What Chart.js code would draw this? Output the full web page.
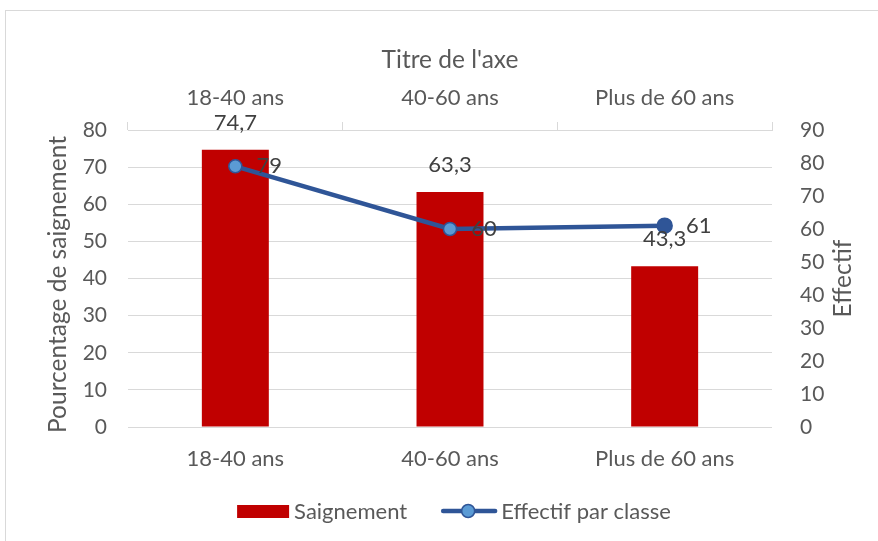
<!DOCTYPE html>
<html>
<head>
<meta charset="utf-8">
<script src="https://cdn.jsdelivr.net/npm/chart.js@4.4.1/dist/chart.umd.min.js"></script>
<style>
    body{ margin:0; background:#fff; }
    .chart-holder{ position:relative; width:878px; height:541px; }
    .chart-frame{ position:absolute; left:5px; top:10px; width:880px; height:540px; border:1px solid #D9D9D9; box-sizing:border-box; }
    #chart{ position:absolute; left:0; top:0; }
</style>
</head>
<body>
<div class="chart-holder">
    <div class="chart-frame"></div>
    <canvas id="chart" width="878" height="541"></canvas>
</div>
<script>
// data
const categories = ['18-40 ans', '40-60 ans', 'Plus de 60 ans'];
const saignement = [74.7, 63.3, 43.3];
const effectif = [79, 60, 61];
const leftTicks = [0, 80, 10];   // min, max, step
const rightTicks = [0, 90, 10];

const textColor = '#595959';
const labelColor = '#404040';
const gridColor = '#D9D9D9';
const fontFamily = 'Lato, "Open Sans", sans-serif';
const tickFont = { family: fontFamily, size: 21 };
const catFont = { family: fontFamily, size: 22 };
const titleFont = { family: fontFamily, size: 24.5 };

const formatFr = v => String(v).replace('.', ',');

// data labels, vertical titles and legend, drawn the Excel way
const extras = {
    id: 'extras',
    afterDatasetsDraw(chart){
        const ctx = chart.ctx;
        ctx.save();
        ctx.font = `22px ${fontFamily}`;
        ctx.fillStyle = labelColor;
        ctx.textBaseline = 'middle';
        ctx.textAlign = 'center';
        chart.getDatasetMeta(0).data.forEach((bar, i) => {
            ctx.fillText(formatFr(saignement[i]), bar.x, bar.y - 27);
        });
        chart.getDatasetMeta(1).data.forEach((pt, i) => {
            ctx.fillText(formatFr(effectif[i]), pt.x + 34, pt.y);
        });
        ctx.restore();
    },
    afterDraw(chart){
        const ctx = chart.ctx;
        const area = chart.chartArea;
        const midY = (area.top + area.bottom) / 2;

        ctx.save();
        ctx.font = `24.5px ${fontFamily}`;
        ctx.fillStyle = textColor;
        ctx.textAlign = 'center';
        ctx.textBaseline = 'middle';
        ctx.save();
        ctx.translate(58, midY + 6);
        ctx.rotate(-Math.PI / 2);
        ctx.fillText('Pourcentage de saignement', 0, 0);
        ctx.restore();
        ctx.translate(843, midY);
        ctx.rotate(-Math.PI / 2);
        ctx.fillText('Effectif', 0, 0);
        ctx.restore();

        // legend
        ctx.save();
        ctx.font = `22px ${fontFamily}`;
        ctx.textBaseline = 'middle';
        ctx.textAlign = 'left';
        const y = area.bottom + 84;
        const w1 = ctx.measureText('Saignement').width;
        const w2 = ctx.measureText('Effectif par classe').width;
        const total = 52 + 5 + w1 + 34 + 56 + 4 + w2;
        let x = (area.left + area.right) / 2 + 4 - total / 2;
        ctx.fillStyle = '#C00000';
        ctx.fillRect(x, y - 6, 52, 13);
        ctx.fillStyle = textColor;
        ctx.fillText('Saignement', x + 57, y + 1);
        x += 57 + w1 + 34;
        ctx.strokeStyle = '#2F5597';
        ctx.lineWidth = 4.5;
        ctx.lineCap = 'round';
        ctx.beginPath();
        ctx.moveTo(x + 2, y);
        ctx.lineTo(x + 54, y);
        ctx.stroke();
        ctx.beginPath();
        ctx.arc(x + 27, y, 6.5, 0, Math.PI * 2);
        ctx.fillStyle = '#5B9BD5';
        ctx.fill();
        ctx.lineWidth = 1.5;
        ctx.stroke();
        ctx.fillStyle = textColor;
        ctx.fillText('Effectif par classe', x + 60, y + 1);
        ctx.restore();
    }
};

new Chart(document.getElementById('chart'), {
    type: 'bar',
    data: {
        labels: categories,
        datasets: [
            {
                label: 'Saignement',
                data: saignement,
                backgroundColor: '#C00000',
                yAxisID: 'y',
                xAxisID: 'x',
                categoryPercentage: 1,
                barPercentage: 0.312,
                order: 2
            },
            {
                type: 'line',
                label: 'Effectif par classe',
                data: effectif,
                yAxisID: 'y1',
                xAxisID: 'x',
                borderColor: '#2F5597',
                borderWidth: 4.5,
                pointRadius: [6.5, 6.5, 7.5],
                pointBackgroundColor: ['#5B9BD5', '#5B9BD5', '#2F5597'],
                pointBorderColor: '#2F5597',
                pointBorderWidth: 1.5,
                tension: 0,
                order: 1
            }
        ]
    },
    options: {
        responsive: false,
        animation: false,
        layout: { padding: { top: 36, left: 40, right: 23, bottom: 0 } },
        plugins: {
            legend: { display: false },
            tooltip: { enabled: false }
        },
        scales: {
            x: {
                position: 'bottom',
                grid: { display: false },
                border: { display: false },
                ticks: { color: textColor, font: catFont, padding: 11, maxRotation: 0 },
                afterFit: s => { s.height = 114; }
            },
            x2: {
                type: 'category',
                labels: categories,
                position: 'top',
                offset: true,
                grid: { display: true, drawOnChartArea: false, offset: true, tickLength: 8, color: gridColor },
                border: { display: true, color: gridColor },
                ticks: { color: textColor, font: catFont, padding: 11, maxRotation: 0 },
                title: { display: true, text: "Titre de l'axe", color: textColor, font: titleFont, padding: { top: 9, bottom: 0 } },
                afterFit: s => { s.height = 94; }
            },
            y: {
                position: 'left',
                min: leftTicks[0],
                max: leftTicks[1],
                ticks: { stepSize: leftTicks[2], color: textColor, font: tickFont, padding: 21 },
                grid: { color: gridColor, drawTicks: false },
                border: { display: false },
                afterFit: s => { s.width = 88; }
            },
            y1: {
                position: 'right',
                min: rightTicks[0],
                max: rightTicks[1],
                ticks: { stepSize: rightTicks[2], color: textColor, font: tickFont, padding: 20 },
                grid: { display: false },
                border: { display: false },
                afterFit: s => { s.width = 83; }
            }
        }
    },
    plugins: [extras]
});
</script>
</body>
</html>
